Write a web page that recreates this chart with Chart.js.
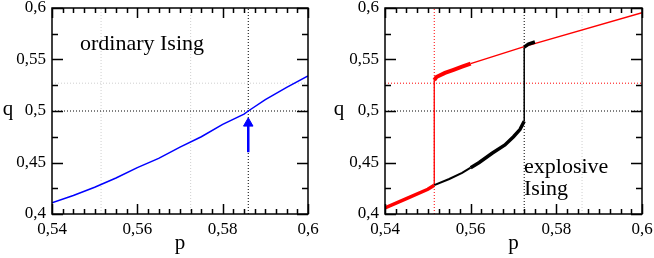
<!DOCTYPE html>
<html><head><meta charset="utf-8">
<script src="https://cdn.jsdelivr.net/npm/chart.js@4/dist/chart.umd.min.js"></script>
<style>
html,body{margin:0;padding:0;background:#fff;}
#wrap{position:relative;width:654px;height:258px;overflow:hidden;}
canvas{position:absolute;top:0;}
</style></head><body>
<div id="wrap">
<canvas id="c1" width="327" height="258" style="left:0"></canvas>
<canvas id="c2" width="327" height="258" style="left:327px"></canvas>
</div>
<script>
// ---------- data ----------
const xTicks = [0.54, 0.56, 0.58, 0.6];
const yTicks = [0.4, 0.45, 0.5, 0.55, 0.6];

// ordinary Ising (left panel)
const ordP = [0.54, 0.545, 0.55, 0.555, 0.56, 0.565, 0.57, 0.575, 0.58, 0.585, 0.586, 0.59, 0.595, 0.6];
const ordQ = [0.411, 0.418, 0.426, 0.435, 0.445, 0.454, 0.465, 0.475, 0.487, 0.497, 0.500, 0.511, 0.523, 0.534];
const arrowP = [0.586, 0.586];
const arrowQ = [0.460, 0.486];
const arrowHeadP = [0.586];
const arrowHeadQ = [0.488];

// explosive Ising (right panel) - red branch
const redLowP = [0.54, 0.545, 0.55, 0.5515];
const redLowQ = [0.406, 0.415, 0.424, 0.428];
const redJumpP = [0.5515, 0.5515];
const redJumpQ = [0.428, 0.530];
const redNoiseP = [0.5515, 0.552, 0.554, 0.556, 0.558, 0.56];
const redNoiseQ = [0.530, 0.533, 0.537, 0.540, 0.543, 0.546];
const redHighP = [0.56, 0.5725, 0.6];
const redHighQ = [0.546, 0.5625, 0.5955];
// black branch
const blackLowP = [0.5515, 0.555, 0.558, 0.56];
const blackLowQ = [0.428, 0.434, 0.440, 0.445];
const blackNoiseP = [0.56, 0.562, 0.565, 0.568, 0.57, 0.5715, 0.5725];
const blackNoiseQ = [0.445, 0.450, 0.459, 0.467, 0.475, 0.482, 0.490];
const blackJumpP = [0.5725, 0.5725];
const blackJumpQ = [0.490, 0.562];
const blackTopP = [0.5725, 0.5735, 0.575];
const blackTopQ = [0.562, 0.565, 0.567];

// reference (dotted) lines
const pcOrd = 0.586, qcOrd = 0.5;
const pcRed = 0.5515, qcRed = 0.527;
const pcBlack = 0.5725, qcBlack = 0.5;

// ---------- helpers ----------
const serif = "'Liberation Serif', 'Times New Roman', serif";
Chart.defaults.font.family = serif;
Chart.defaults.color = '#000';
const pts = (P, Q) => P.map((p, i) => ({x: p, y: Q[i]}));
const fmt = v => String(+(+v).toFixed(3)).replace('.', ',');
function line(P, Q, color, width, extra) {
  return Object.assign({data: pts(P, Q), borderColor: color, backgroundColor: color,
    borderWidth: width, pointRadius: 0, showLine: true, fill: false, tension: 0,
    borderCapStyle: 'butt'}, extra || {});
}
function dotted(P, Q, color, order) {
  return line(P, Q, color, 1, {borderDash: [1, 2], order: order});
}
const vLine = p => [[p, p], [0.4, 0.6]];
const hLine = q => [[0.54, 0.6], [q, q]];

function scales(yWidth) {
  return {
    x: {type: 'linear', min: 0.54, max: 0.6,
      afterBuildTicks: s => { s.ticks = xTicks.map(v => ({value: v})); },
      ticks: {callback: fmt, color: '#000', font: {family: serif, size: 17}, padding: 5,
        maxRotation: 0, autoSkip: false},
      grid: {display: false, drawTicks: false}, border: {display: false},
      title: {display: true, text: 'p', color: '#000', font: {family: serif, size: 21},
        padding: {top: 0, bottom: 2}},
      afterFit: s => { s.height = 44; s.paddingLeft = 0; s.paddingRight = 0; }
    },
    y: {type: 'linear', min: 0.4, max: 0.6,
      afterBuildTicks: s => { s.ticks = yTicks.map(v => ({value: v})); },
      ticks: {callback: fmt, color: '#000', font: {family: serif, size: 17}, padding: 6,
        autoSkip: false},
      grid: {display: false, drawTicks: false}, border: {display: false},
      afterFit: s => { s.width = yWidth; s.paddingTop = 0; s.paddingBottom = 0; }
    }
  };
}

// frame + inside ticks on all four sides, plus free texts
function framePlugin(texts, qX) {
  return {
    id: 'frame',
    afterDatasetsDraw(chart) {
      const ctx = chart.ctx, a = chart.chartArea;
      const xs = chart.scales.x, ys = chart.scales.y;
      ctx.save();
      ctx.strokeStyle = '#000';
      ctx.lineWidth = 1.5;
      ctx.beginPath();
      for (let i = 0; i <= 24; i++) {
        const v = 0.54 + i * 0.0025;
        const px = Math.round(xs.getPixelForValue(v)) + 0.5;
        const len = (i % 8 === 0) ? 10 : 5;
        ctx.moveTo(px, a.bottom); ctx.lineTo(px, a.bottom - len);
        ctx.moveTo(px, a.top); ctx.lineTo(px, a.top + len);
      }
      for (let i = 0; i <= 8; i++) {
        const v = 0.4 + i * 0.025;
        const py = Math.round(ys.getPixelForValue(v)) + 0.5;
        const len = (i % 2 === 0) ? 11 : 6;
        ctx.moveTo(a.left, py); ctx.lineTo(a.left + len, py);
        ctx.moveTo(a.right, py); ctx.lineTo(a.right - len, py);
      }
      ctx.stroke();
      ctx.lineWidth = 1.5;
      ctx.strokeRect(a.left, a.top, a.right - a.left, a.bottom - a.top);
      ctx.fillStyle = '#000';
      ctx.font = '22px ' + serif;
      ctx.textBaseline = 'alphabetic';
      ctx.textAlign = 'left';
      texts.forEach(t => ctx.fillText(t[0], t[1], t[2]));
      ctx.font = '21px ' + serif;
      ctx.textAlign = 'center';
      ctx.textBaseline = 'middle';
      ctx.fillText('q', qX, 109);
      ctx.restore();
    }
  };
}

const base = {responsive: false, animation: false, events: [],
  plugins: {legend: {display: false}, tooltip: {enabled: false}}};

// ---------- left chart ----------
new Chart(document.getElementById('c1'), {
  type: 'line',
  data: {datasets: [
    line(ordP, ordQ, '#0000ff', 1.5, {order: 1}),
    line(arrowP, arrowQ, '#0000ff', 2.5, {order: 1}),
    line(arrowHeadP, arrowHeadQ, '#0000ff', 1, {order: 1, pointRadius: 5.5,
      pointStyle: 'triangle', showLine: false}),
    dotted(...vLine(pcOrd), '#000', 5),
    dotted(...hLine(qcOrd), '#000', 5),
    dotted(...vLine(pcRed), '#cfcfcf', 9),
    dotted(...vLine(pcBlack), '#cfcfcf', 9),
    dotted(...hLine(qcRed), '#cfcfcf', 9)
  ]},
  options: Object.assign({}, base, {
    layout: {padding: {left: 0, right: 19, top: 8, bottom: 0}},
    scales: scales(52)
  }),
  plugins: [framePlugin([['ordinary Ising', 80, 50]], 8)]
});

// ---------- right chart ----------
new Chart(document.getElementById('c2'), {
  type: 'line',
  data: {datasets: [
    line(blackTopP, blackTopQ, '#000', 3.5, {order: 1}),
    line(blackJumpP, blackJumpQ, '#000', 1.5, {order: 1}),
    line(blackNoiseP, blackNoiseQ, '#000', 3.5, {order: 1}),
    line(blackLowP, blackLowQ, '#000', 2, {order: 2}),
    line(redHighP, redHighQ, '#ff0000', 1.5, {order: 2}),
    line(redNoiseP, redNoiseQ, '#ff0000', 4, {order: 2}),
    line(redJumpP, redJumpQ, '#ff0000', 1.3, {order: 2}),
    line(redLowP, redLowQ, '#ff0000', 3.5, {order: 1}),
    dotted(...vLine(pcRed), '#ff0000', 5),
    dotted(...hLine(qcRed), '#ff0000', 5),
    dotted(...vLine(pcBlack), '#000', 5),
    dotted(...hLine(qcBlack), '#000', 5),
    dotted(...vLine(pcOrd), '#cfcfcf', 9)
  ]},
  options: Object.assign({}, base, {
    layout: {padding: {left: 0, right: 12, top: 8, bottom: 0}},
    scales: scales(58)
  }),
  plugins: [framePlugin([['explosive', 197, 173], ['Ising', 197, 195]], 12)]
});
</script>
</body></html>
